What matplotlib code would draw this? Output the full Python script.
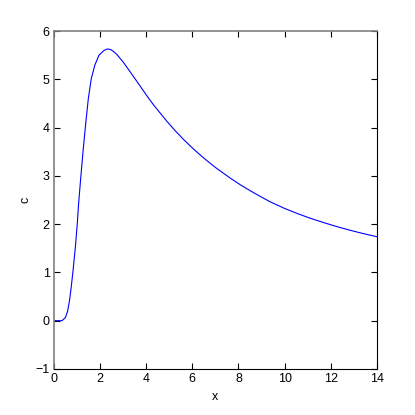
import matplotlib
matplotlib.use("Agg")
import matplotlib.pyplot as plt

# values
x = [0.0, 0.35, 0.49, 0.59, 0.68, 0.75, 0.82, 0.93, 1.01, 1.07, 1.16,
     1.26, 1.37, 1.49, 1.62, 1.77, 1.95, 2.17, 2.32, 2.45, 2.58, 2.72,
     3.0, 3.3, 3.74, 4.0, 4.32, 4.61, 4.9, 5.25, 5.62, 6.0, 6.35, 6.7,
     7.07, 7.65, 8.1, 8.52, 9.0, 9.39, 10.0, 10.55, 11.1, 11.71, 12.3,
     12.87, 13.4, 14.0]
c = [0.0, 0.0, 0.06, 0.19, 0.43, 0.70, 1.00, 1.53, 2.00, 2.43, 2.95,
     3.50, 4.05, 4.60, 5.02, 5.29, 5.50, 5.60, 5.63, 5.62, 5.58, 5.52,
     5.36, 5.16, 4.86, 4.68, 4.47, 4.30, 4.13, 3.94, 3.755, 3.58, 3.43, 3.29,
     3.15, 2.953, 2.81, 2.69, 2.56, 2.46, 2.326, 2.221, 2.125, 2.03, 1.945,
     1.87, 1.806, 1.74]

xticks = [0, 2, 4, 6, 8, 10, 12, 14]
yticks = [-1, 0, 1, 2, 3, 4, 5, 6]

plt.rcParams['font.family'] = ['Liberation Sans Narrow', 'Liberation Sans', 'DejaVu Sans']

fig = plt.figure(figsize=(4.15, 4.15), dpi=100)
ax = fig.add_axes([0.13, 0.111, 0.778, 0.814])
ax.plot(x, c, color='#0000ff', linewidth=0.8)

ax.set_xlim(0, 14)
ax.set_ylim(-1, 6)
ax.set_xticks(xticks)
ax.set_yticks(yticks)
ax.tick_params(direction='in', length=4, width=0.8, top=True, right=True,
               labelsize=9, pad=3)
ax.spines['left'].set_color('#808080')
ax.spines['top'].set_color('#808080')
ax.spines['left'].set_linewidth(1.2)
ax.spines['top'].set_linewidth(1.2)
ax.spines['bottom'].set_linewidth(0.8)
ax.spines['right'].set_linewidth(0.8)
ax.set_xlabel('x', fontsize=9, labelpad=4)
ax.set_ylabel('c', fontsize=9, labelpad=3)

fig.savefig('out.png', dpi=100)
